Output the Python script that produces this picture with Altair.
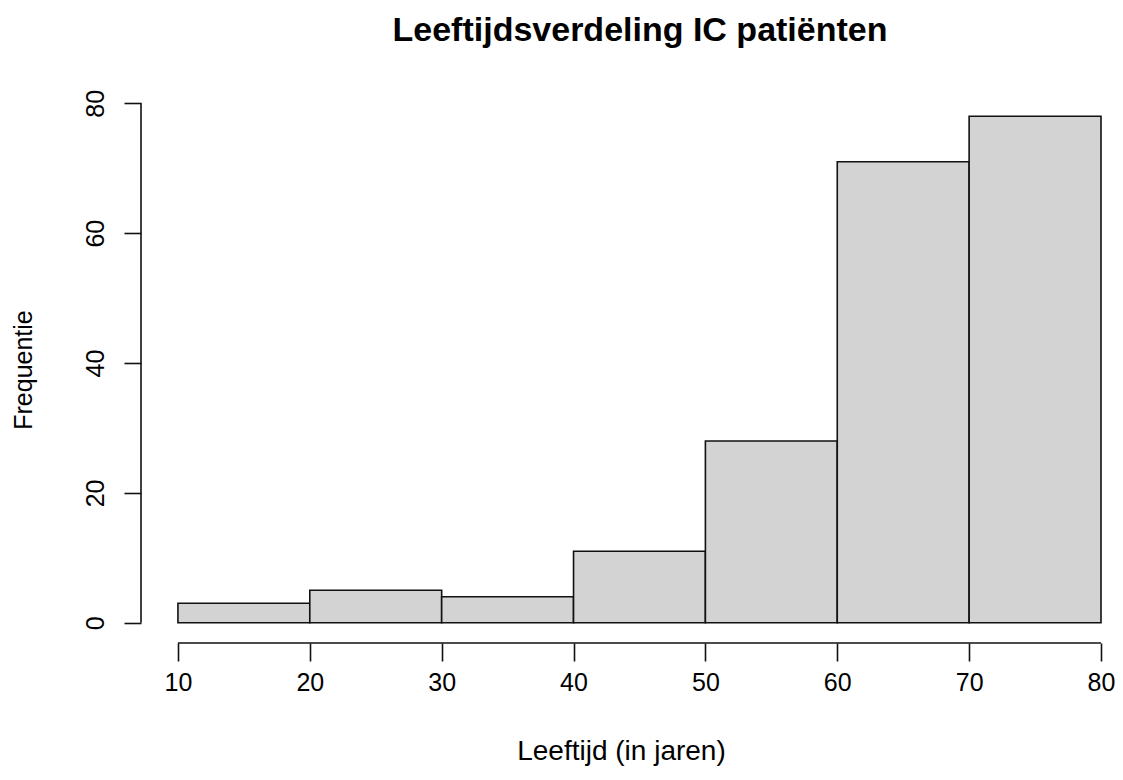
import altair as alt
import pandas as pd

bin_start = [10, 20, 30, 40, 50, 60, 70]
bin_end = [20, 30, 40, 50, 60, 70, 80]
counts = [3, 5, 4, 11, 28, 71, 78]
x_ticks = [10, 20, 30, 40, 50, 60, 70, 80]
y_ticks = [0, 20, 40, 60, 80]

df = pd.DataFrame({"start": bin_start, "end": bin_end, "count": counts, "zero": [0] * len(counts)})

FONT = "Liberation Sans"
xdom = [7.2, 80.0]
ydom = [-3.12, 81.12]

xscale = alt.Scale(domain=xdom, nice=False, zero=False)
yscale = alt.Scale(domain=ydom, nice=False, zero=False)

bars = alt.Chart(df).mark_rect(fill="#d3d3d3", stroke="#111111", strokeWidth=1.6).encode(
    x=alt.X("start:Q", scale=xscale,
            axis=alt.Axis(values=x_ticks, domain=False, grid=False, tickSize=18, tickWidth=1.6,
                          tickColor="#111111", labelFontSize=25, labelFont=FONT, labelColor="#000000",
                          labelPadding=9, labelFlush=False, labelOverlap=False,
                          title="Leeftijd (in jaren)", titleFont=FONT,
                          titleFontSize=28, titleFontWeight="normal", titleColor="#000000",
                          titlePadding=42)),
    x2="end:Q",
    y=alt.Y("count:Q", scale=yscale,
            axis=alt.Axis(values=y_ticks, domain=False, grid=False, tickSize=17, tickWidth=1.6,
                          tickColor="#111111", labelFontSize=25, labelFont=FONT, labelColor="#000000",
                          labelAngle=-90, labelAlign="center", labelBaseline="bottom",
                          labelFlush=False, labelPadding=16, title="Frequentie", titleFont=FONT,
                          titleFontSize=25, titleFontWeight="normal", titleColor="#000000",
                          titlePadding=47)),
    y2="zero:Q",
)

xline = alt.Chart(pd.DataFrame({"a": [x_ticks[0]], "b": [x_ticks[-1]], "y": [ydom[0]]})).mark_rule(
    color="#111111", strokeWidth=1.6).encode(
    x=alt.X("a:Q", scale=xscale), x2="b:Q", y=alt.Y("y:Q", scale=yscale))

yline = alt.Chart(pd.DataFrame({"x": [xdom[0]], "a": [y_ticks[0]], "b": [y_ticks[-1]]})).mark_rule(
    color="#111111", strokeWidth=1.6).encode(
    x=alt.X("x:Q", scale=xscale), y=alt.Y("a:Q", scale=yscale), y2="b:Q")

chart = alt.layer(bars, xline, yline).properties(
    width=960,
    height=547,
    background="white",
    title=alt.TitleParams("Leeftijdsverdeling IC patiënten", font=FONT, fontSize=34,
                          fontWeight="bold", color="#000000", anchor="middle", dx=19, offset=41),
    autosize=alt.AutoSizeParams(type="none"),
    padding={"left": 133, "top": 88, "right": 14, "bottom": 129},
).configure_view(stroke=None)

chart.save("out.html", embed_options={"renderer": "svg", "actions": False})
